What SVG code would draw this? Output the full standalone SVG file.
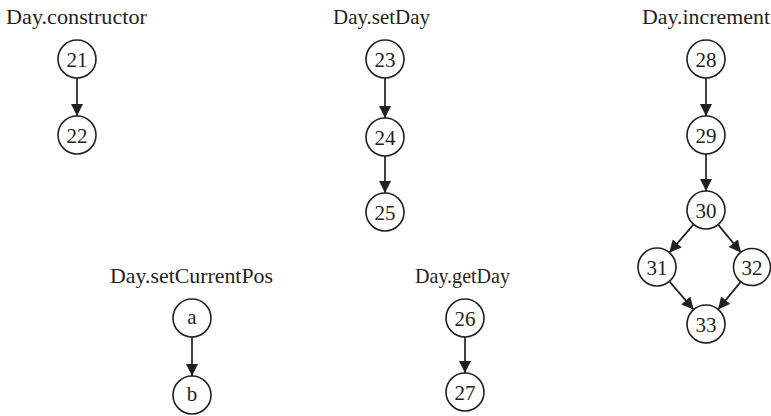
<svg xmlns="http://www.w3.org/2000/svg" width="771" height="416" viewBox="0 0 771 416">
<style>
.n circle{fill:#fff;stroke:#231f20;stroke-width:1.6}
.n text{font-family:"Liberation Serif",serif;font-size:21px;fill:#231f20;text-anchor:middle}
.t{font-family:"Liberation Serif",serif;font-size:21px;fill:#231f20}
.e line{stroke:#231f20;stroke-width:1.7;marker-end:url(#ah)}
</style>
<defs>
<marker id="ah" markerUnits="userSpaceOnUse" markerWidth="13" markerHeight="13" refX="12" refY="6" orient="auto">
<path d="M0,0 L12,6 L0,12 z" fill="#231f20"/>
</marker>
</defs>
<g id="titles">
<text class="t" x="6" y="24" textLength="141" lengthAdjust="spacingAndGlyphs">Day.constructor</text>
<text class="t" x="333" y="24" textLength="97" lengthAdjust="spacingAndGlyphs">Day.setDay</text>
<text class="t" x="642" y="24" textLength="128" lengthAdjust="spacingAndGlyphs">Day.increment</text>
<text class="t" x="110" y="283" textLength="163" lengthAdjust="spacingAndGlyphs">Day.setCurrentPos</text>
<text class="t" x="415" y="283" textLength="95" lengthAdjust="spacingAndGlyphs">Day.getDay</text>
</g>
<g id="connectors" class="e">
<line x1="77" y1="78" x2="77" y2="116"/>
<line x1="385" y1="78" x2="385" y2="118"/>
<line x1="385" y1="156" x2="385" y2="193"/>
<line x1="706" y1="78" x2="706" y2="116"/>
<line x1="706" y1="154" x2="706" y2="191"/>
<line x1="693.6" y1="224.4" x2="669.4" y2="252.6"/>
<line x1="718.1" y1="224.6" x2="740.9" y2="252.4"/>
<line x1="669.4" y1="281.4" x2="693.6" y2="309.6"/>
<line x1="740.9" y1="281.6" x2="718.1" y2="309.4"/>
<line x1="192" y1="337" x2="192" y2="376"/>
<line x1="465" y1="337" x2="465" y2="373"/>
</g>
<g id="n21" class="n"><circle cx="77" cy="59" r="19"/><text x="77" y="66.5">21</text></g>
<g id="n22" class="n"><circle cx="77" cy="135" r="19"/><text x="77" y="142.5">22</text></g>
<g id="n23" class="n"><circle cx="385" cy="59" r="19"/><text x="385" y="66.5">23</text></g>
<g id="n24" class="n"><circle cx="385" cy="137" r="19"/><text x="385" y="144.5">24</text></g>
<g id="n25" class="n"><circle cx="385" cy="212" r="19"/><text x="385" y="219.5">25</text></g>
<g id="n28" class="n"><circle cx="706" cy="59" r="19"/><text x="706" y="66.5">28</text></g>
<g id="n29" class="n"><circle cx="706" cy="135" r="19"/><text x="706" y="142.5">29</text></g>
<g id="n30" class="n"><circle cx="706" cy="210" r="19"/><text x="706" y="217.5">30</text></g>
<g id="n31" class="n"><circle cx="657" cy="267" r="19"/><text x="657" y="274.5">31</text></g>
<g id="n32" class="n"><circle cx="752" cy="267" r="18.5"/><text x="752" y="274.5">32</text></g>
<g id="n33" class="n"><circle cx="706" cy="324" r="19"/><text x="706" y="331.5">33</text></g>
<g id="na" class="n"><circle cx="192" cy="318" r="19"/><text x="192" y="324">a</text></g>
<g id="nb" class="n"><circle cx="192" cy="395" r="19"/><text x="192" y="401">b</text></g>
<g id="n26" class="n"><circle cx="465" cy="318" r="19"/><text x="465" y="325.5">26</text></g>
<g id="n27" class="n"><circle cx="465" cy="392" r="19"/><text x="465" y="399.5">27</text></g>
</svg>
